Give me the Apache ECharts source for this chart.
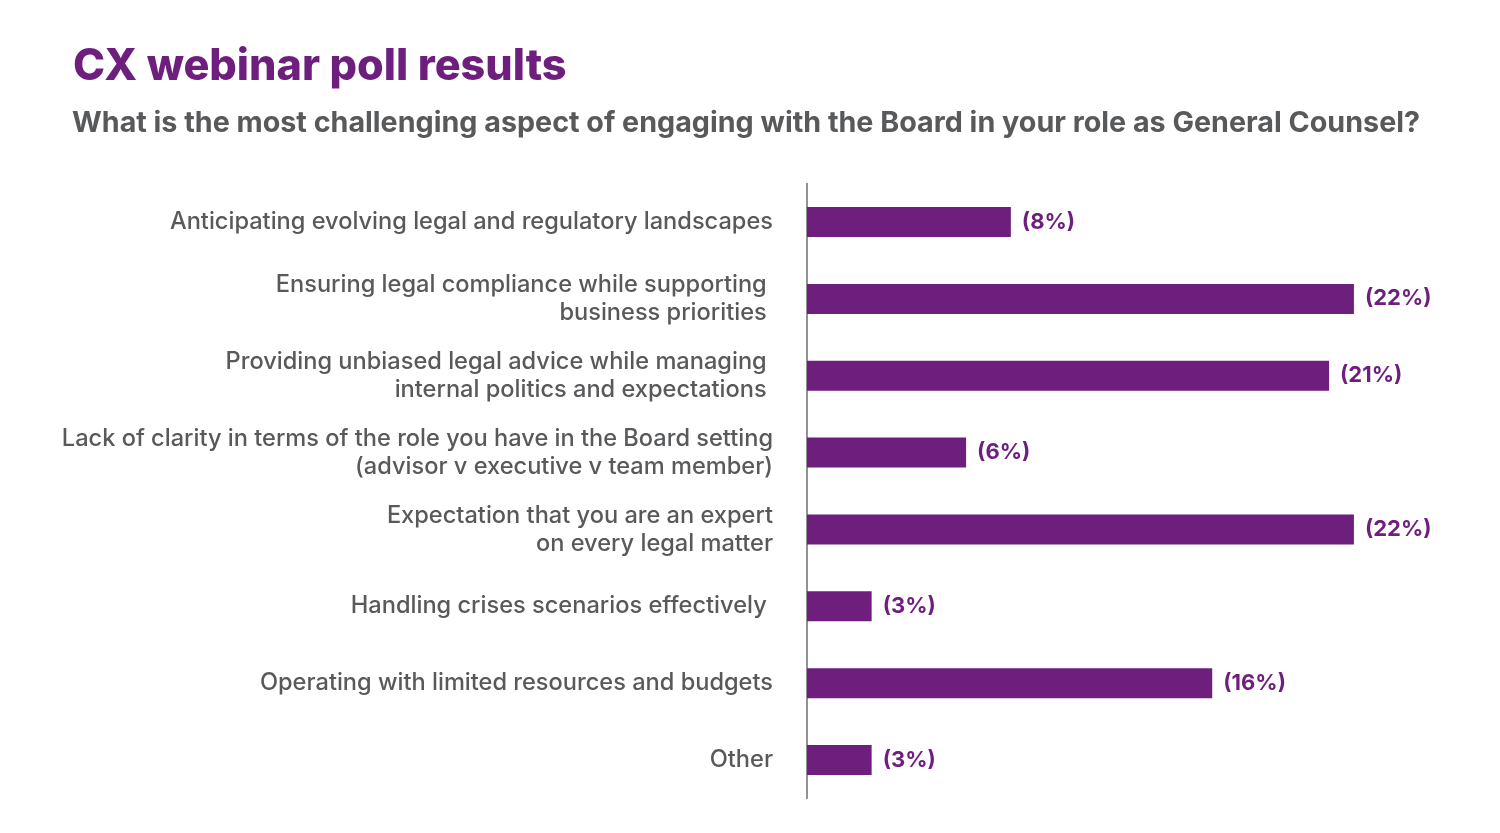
<!DOCTYPE html>
<html><head><meta charset="utf-8">
<script src="https://cdn.jsdelivr.net/npm/echarts@6/dist/echarts.min.js"></script>
<style>html,body{margin:0;padding:0;background:#fff}#c{width:1500px;height:833px}</style>
</head><body><div id="c"></div>
<script>
const titleText = 'CX webinar poll results';
const subtitleText = 'What is the most challenging aspect of engaging with the Board in your role as General Counsel?';
const categories = [
  'Anticipating evolving legal and regulatory landscapes',
  'Ensuring legal compliance while supporting \nbusiness priorities ',
  'Providing unbiased legal advice while managing \ninternal politics and expectations ',
  'Lack of clarity in terms of the role you have in the Board setting\n(advisor v executive v team member)',
  'Expectation that you are an expert\non every legal matter',
  'Handling crises scenarios effectively ',
  'Operating with limited resources and budgets',
  'Other'
];
const values = [8.2, 22.0, 21.0, 6.4, 22.0, 2.6, 16.3, 2.6];
const valueLabels = ['(8%)', '(22%)', '(21%)', '(6%)', '(22%)', '(3%)', '(16%)', '(3%)'];

const chart = echarts.init(document.getElementById('c'));
const FONT = 'Inter';
chart.setOption({
  backgroundColor: '#ffffff',
  animation: false,
  title: [
    { text: titleText, left: 68, top: 41, textStyle: { fontFamily: FONT, fontWeight: 800, fontSize: 43.2, color: '#6e1f7e' } },
    { text: subtitleText, left: 67, top: 104, textStyle: { fontFamily: FONT, fontWeight: 700, fontSize: 28.7, color: '#58595b' } }
  ],
  grid: { left: 807, top: 183.6, bottom: 34.6, right: 71.5, containLabel: false },
  xAxis: { type: 'value', min: 0, max: 25, show: false },
  yAxis: {
    type: 'category', data: categories, inverse: true,
    axisLine: { show: true, lineStyle: { color: '#6d6e70', width: 1.5 } },
    axisTick: { show: false },
    axisLabel: { margin: 34, fontFamily: FONT, fontWeight: 500, fontSize: 23.6, color: '#58595b', lineHeight: 28, align: 'right' }
  },
  series: [{
    type: 'bar', barWidth: 30,
    data: values,
    itemStyle: { color: '#6e1f7e' },
    label: {
      show: true, position: 'right', distance: 11,
      formatter: p => valueLabels[p.dataIndex],
      fontFamily: FONT, fontWeight: 700, fontSize: 22, color: '#6e1f7e'
    }
  }]
});
</script></body></html>
